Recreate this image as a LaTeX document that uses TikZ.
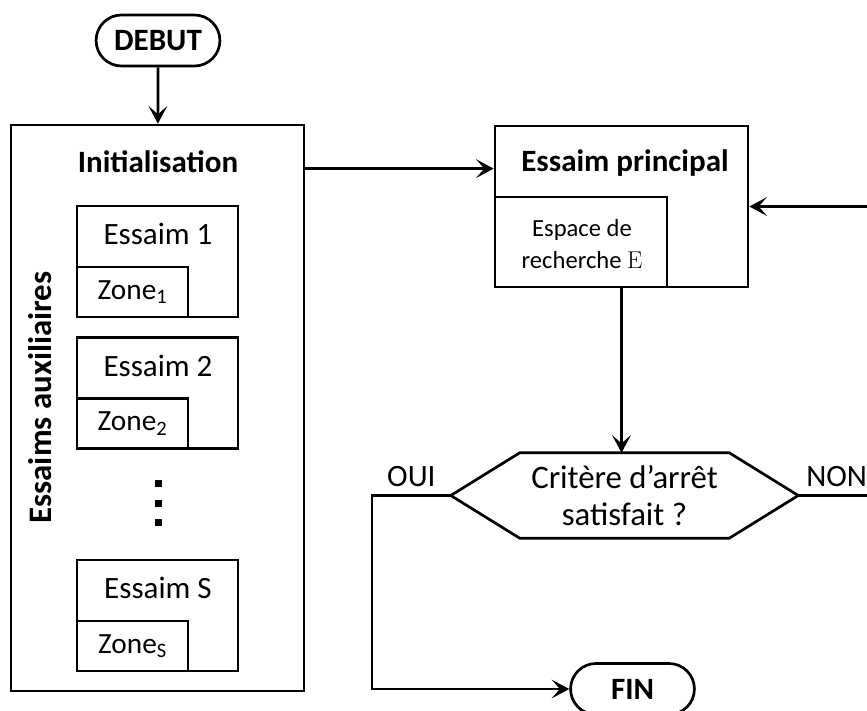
\documentclass[tikz,border=0pt]{standalone}
\usepackage[no-math]{fontspec}
\setmainfont{Carlito}
\usetikzlibrary{arrows.meta,shapes.misc}

\begin{document}
\begin{tikzpicture}[x=0.03cm, y=-0.03cm,
  every node/.style={font=\fontsize{26.5}{32}\selectfont},
  term/.style={draw, rounded rectangle, line width=2.3pt, minimum width=3.95cm, minimum height=1.53cm, font=\fontsize{26.5}{32}\selectfont\bfseries},
  frame/.style={draw, rectangle, line width=2.3pt, inner sep=0pt},
  title/.style={anchor=base, font=\fontsize{26.5}{32}\selectfont\bfseries},
  swarm/.style={frame, minimum width=4.83cm, minimum height=3.33cm},
  zone/.style={frame, anchor=south west, minimum width=3.33cm, minimum height=1.5cm, font=\fontsize{25}{30}\selectfont},
  dot/.style={fill=black, rectangle, inner sep=0pt, minimum size=0.21cm},
  flow/.style={-{Stealth[length=15pt, width=16pt, inset=7pt]}, line width=2.3pt}]
\useasboundingbox (0,0) rectangle (867,711);
\clip (0,0) rectangle (867,711);

% Start / end
\node[term] (debut) at (158,40.5) {DEBUT};
\node[term] (fin) at (632.5,689) {FIN};

% Auxiliary swarms
\node[frame, minimum width=8.79cm, minimum height=16.98cm] (init) at (157.5,408) {};
\node[title] (inittitle) at (158,173) {Initialisation};
\node[rotate=90, font=\fontsize{28}{34}\selectfont\bfseries] (auxlabel) at (40,397.5) {Essaims auxiliaires};

\foreach \y/\t/\s [count=\i] in {261.5/1/1, 393/2/2, 615.5/S/S}{
  \node[swarm] (swarm\i) at (157.5,\y) {};
  \node (swarmtext\i) at (158,\y-27.5) {Essaim \t};
  \node[zone] (zone\i) at (swarm\i.south west) {Zone\textsubscript{\s}};
}
\foreach \y [count=\i] in {483,503,522}
  \node[dot] (dot\i) at (158,\y) {};

% Main swarm
\node[frame, minimum width=7.59cm, minimum height=4.83cm] (principal) at (621.5,206.5) {};
\node[title] (princtitle) at (625,172) {Essaim principal};
\node[frame, anchor=south west, minimum width=5.16cm, minimum height=2.7cm] (espace) at (principal.south west) {};
\node[align=center, font=\fontsize{21}{28}\selectfont] (espacetext) at (582,244) {Espace de\\recherche $\mathrm{E}$};

% Stop test
\node[minimum width=10.41cm, minimum height=2.55cm, align=center, font=\fontsize{28}{31.5}\selectfont] (crit) at (624.5,495.5) {Critère d’arrêt\\satisfait ?};
\draw[line width=2.3pt] (crit.west) -- ([xshift=2.07cm]crit.north west) -- ([xshift=-2.07cm]crit.north east)
  -- (crit.east) -- ([xshift=-2.07cm]crit.south east) -- ([xshift=2.07cm]crit.south west) -- cycle;

\coordinate (ouicorner) at (372,495.5);
\coordinate (noncorner) at (875,495.5);

% Connections
\draw[flow] (debut) -- (init);
\draw[flow] ([yshift=-1.35cm]init.north east) coordinate (initout) -- (initout -| principal.west);
\draw[flow] (principal.south) -- (principal.south |- crit.north);
\draw[flow] (crit.west) -- node[above=3pt] {OUI} (ouicorner) |- (fin.west);
\draw[flow] (crit.east) -- node[above=3pt] {NON} (noncorner) |- (principal.east);

\end{tikzpicture}
\end{document}
